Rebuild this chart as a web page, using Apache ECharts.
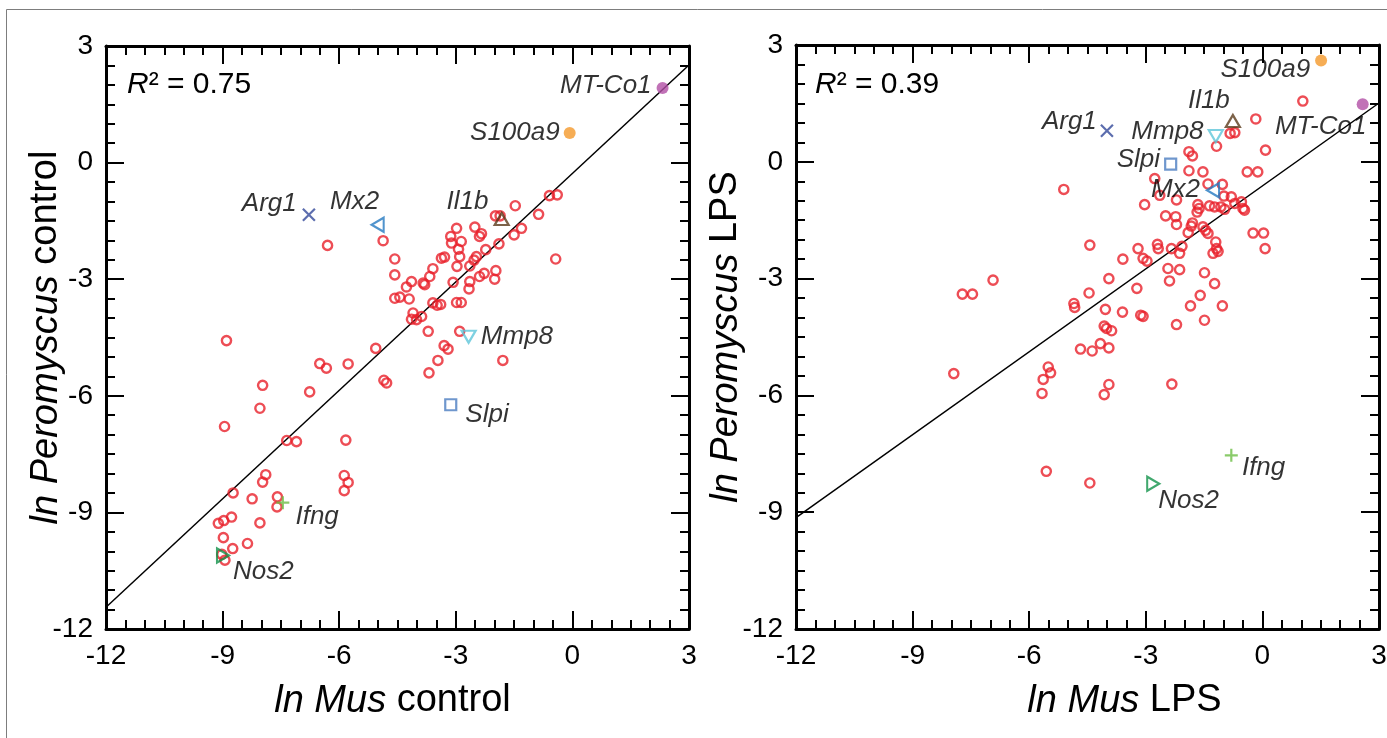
<!DOCTYPE html>
<html>
<head>
<meta charset="utf-8">
<title>Mus vs Peromyscus expression</title>
<script src="https://cdn.jsdelivr.net/npm/echarts/dist/echarts.min.js"></script>
<style>
  html, body { margin: 0; padding: 0; background: #fff; }
  #chart { width: 1387px; height: 738px; }
</style>
</head>
<body>
<div id="chart"></div>
<script>
// ---- data -------------------------------------------------------------
const axisTicks = [-12, -9, -6, -3, 0, 3];

// highlighted genes (same order in every array below)
const genes = ['MT-Co1', 'S100a9', 'Il1b', 'Arg1', 'Mx2', 'Mmp8', 'Slpi', 'Ifng', 'Nos2'];
const controlMus  = [2.32, -0.07, -1.82, -6.78, -5.01, -2.67, -3.13, -7.45, -8.99];
const controlPero = [1.92,  0.76, -1.45, -1.34, -1.60, -4.48, -6.23, -8.75, -10.11];
const lpsMus      = [2.58,  1.51, -0.76, -4.00, -1.27, -1.20, -2.36, -0.80, -2.81];
const lpsPero     = [1.48,  2.60,  1.05,  0.80, -0.73,  0.66, -0.06, -7.54, -8.27];

// remaining genes, control condition
const controlOtherMus = [
  -0.59, -0.39, -1.47, -0.87, -1.98, -1.86, -2.98, -2.51, -2.39, -2.34,
  -3.13, -2.86, -3.11, -2.93, -2.90, -3.29, -3.37, -2.23, -1.89, -1.50,
  -1.31, -0.43, -2.47, -2.53, -2.64, -2.97, -3.59, -3.67, -3.84, -4.14,
  -4.27, -4.57, -4.57, -4.57, -4.44, -4.20, -3.80, -3.07, -2.64, -2.66,
  -2.39, -2.27, -1.97, -2.00, -2.98, -2.86, -3.59, -3.48, -3.39, -4.10,
  -4.14, -4.01, -3.88, -3.71, -2.90, -3.30, -3.20, -3.46, -3.69, -1.79,
  -4.87, -6.30, -5.06, -4.85, -4.78, -8.90, -6.50, -6.33, -5.77, -7.97,
  -6.76, -8.04, -8.95, -7.35, -7.10, -5.83, -7.89, -7.97, -5.87, -5.77,
  -5.87, -8.73, -8.24, -7.59, -7.60, -8.77, -8.97, -9.11, -8.04, -8.98,
  -8.36, -8.74, -8.94, -9.02
];
const controlOtherPero = [
  -0.85, -0.83, -1.11, -1.33, -1.37, -1.37, -1.69, -1.66, -1.90, -1.83,
  -1.90, -2.03, -2.07, -2.23, -2.42, -2.43, -2.46, -2.24, -2.09, -1.86,
  -1.69, -2.48, -2.42, -2.51, -2.66, -2.67, -2.73, -2.93, -3.10, -3.06,
  -3.20, -2.48, -2.89, -3.49, -3.46, -3.51, -3.14, -3.08, -3.06, -3.25,
  -2.93, -2.85, -2.78, -3.00, -3.60, -3.60, -3.61, -3.67, -3.65, -3.87,
  -4.03, -4.04, -3.96, -4.34, -4.34, -4.71, -4.80, -5.09, -5.41, -5.09,
  -2.01, -2.13, -4.78, -5.60, -5.67, -4.58, -5.17, -5.29, -5.18, -5.73,
  -5.90, -6.32, -6.79, -7.15, -7.18, -7.14, -8.03, -8.22, -8.05, -8.23,
  -8.44, -8.50, -8.65, -8.60, -8.86, -9.12, -9.21, -9.28, -9.27, -9.65,
  -9.80, -9.93, -10.23, -10.08
];

// remaining genes, LPS condition
const lpsOtherMus = [
   1.04, -0.17, -0.83, -0.71, -1.18,  0.08, -1.89, -1.80, -5.11, -2.77,
  -1.89, -1.53, -0.39, -0.12, -1.40, -1.03, -2.64, -2.21, -3.03, -1.66,
  -1.63, -1.68, -1.36, -1.07, -0.97, -0.80, -0.99, -0.71, -0.54, -0.50,
  -0.46, -1.23, -2.49, -2.23, -2.21, -1.80, -1.83, -1.91, -1.53, -1.46,
  -1.40, -0.24,  0.03,  0.07, -1.20, -1.18, -1.27, -1.14, -4.44, -3.20,
  -3.07, -2.97, -2.70, -2.68, -2.34, -2.07, -2.13, -3.59, -2.43, -2.13,
  -3.95, -3.23, -4.46, -2.39, -1.49, -1.23, -1.60, -1.85, -1.03, -4.85,
  -4.83, -4.04, -3.60, -3.13, -3.07, -2.21, -1.49, -4.07, -4.01, -3.88,
  -4.68, -4.38, -4.17, -3.95, -3.95, -4.07, -2.33, -4.44, -7.94, -5.51,
  -5.45, -5.64, -5.67, -5.56, -6.93, -7.72, -7.46
];
const lpsOtherPero = [
   1.56,  1.10,  0.73,  0.75,  0.40,  0.30,  0.26,  0.15, -0.71, -0.43,
  -0.23, -0.26, -0.26, -0.26, -0.57, -0.58, -0.86, -0.98, -1.10, -1.10,
  -1.20, -1.29, -1.13, -1.16, -1.22, -0.90, -0.88, -1.07, -1.03, -1.20,
  -1.24, -1.16, -1.39, -1.41, -1.61, -1.57, -1.65, -1.82, -1.67, -1.76,
  -1.84, -1.83, -1.83, -2.23, -2.06, -2.23, -2.35, -2.30, -2.14, -2.23,
  -2.48, -2.55, -2.12, -2.23, -2.23, -2.17, -2.35, -2.50, -2.74, -2.77,
  -3.00, -3.25, -3.37, -3.06, -2.85, -3.13, -3.43, -3.70, -3.70, -3.64,
  -3.74, -3.79, -3.86, -3.94, -3.97, -4.18, -4.07, -4.22, -4.28, -4.34,
  -4.81, -4.86, -4.67, -4.78, -5.72, -5.98, -5.71, -8.25, -5.44, -5.27,
  -5.42, -5.59, -5.95, -7.95, -3.04, -3.40, -3.40
];

// least-squares fits and their R²
const controlFit = { slope: 0.93, intercept: -0.28 };
const lpsFit     = { slope: 0.71, intercept: -0.62 };
const controlR2 = '0.75';
const lpsR2 = '0.39';

// ---- styles -----------------------------------------------------------
const FONT = "'Liberation Sans', Arial, Helvetica, sans-serif";
const RED = '#e8202a';
const TITLE_SIZE = 38;

const markerStyles = {
  'MT-Co1': { symbol: 'circle', size: 12, fill: '#b24fa5' },
  'S100a9': { symbol: 'circle', size: 12, fill: '#f4982a' },
  'Il1b':   { symbol: 'triangle', size: [14, 12], stroke: '#5b3b1c', rotate: 0 },
  'Arg1':   { symbol: 'path://M0,0L10,10M10,0L0,10', size: 12, stroke: '#33489a' },
  'Mx2':    { symbol: 'triangle', size: [14, 12], stroke: '#2479c1', rotate: 90 },
  'Mmp8':   { symbol: 'triangle', size: [14, 12], stroke: '#5ec5da', rotate: 180 },
  'Slpi':   { symbol: 'rect', size: 11, stroke: '#4b7dc1' },
  'Ifng':   { symbol: 'path://M5,0L5,10M0,5L10,5', size: 13, stroke: '#6dbe45' },
  'Nos2':   { symbol: 'triangle', size: [14, 12], stroke: '#12924a', rotate: -90 }
};

const controlLabels = {
  'MT-Co1': { position: 'left',  distance: 5, offset: [0, -2] },
  'S100a9': { position: 'left',  distance: 4, offset: [0, 0] },
  'Il1b':   { position: 'left',  distance: 5, offset: [0, -17] },
  'Arg1':   { position: 'left',  distance: 5, offset: [0, -11] },
  'Mx2':    { position: 'top',   distance: 2, offset: [-23, 0] },
  'Mmp8':   { position: 'right', distance: 4, offset: [0, 0] },
  'Slpi':   { position: 'right', distance: 8, offset: [0, 10] },
  'Ifng':   { position: 'right', distance: 5, offset: [0, 14] },
  'Nos2':   { position: 'right', distance: 3, offset: [0, 16] }
};
const lpsLabels = {
  'MT-Co1': { position: 'bottom', distance: 4, offset: [-42, 0] },
  'S100a9': { position: 'left',   distance: 5, offset: [0, 9] },
  'Il1b':   { position: 'top',    distance: 0, offset: [-24, 0] },
  'Arg1':   { position: 'left',   distance: 3, offset: [0, -9] },
  'Mmp8':   { position: 'left',   distance: 4, offset: [0, -4] },
  'Slpi':   { position: 'left',   distance: 4, offset: [0, -4] },
  'Mx2':    { position: 'left',   distance: 6, offset: [0, 0] },
  'Ifng':   { position: 'right',  distance: 3, offset: [0, 12] },
  'Nos2':   { position: 'right',  distance: 4, offset: [-6, 17] }
};

// ---- builders ---------------------------------------------------------
const tickLine = { color: '#000', width: 2 };

function valueAxis(gridIndex, position, withLabels, name, nameGap, namePadding) {
  return {
    type: 'value', gridIndex, position,
    min: axisTicks[0], max: axisTicks[axisTicks.length - 1],
    interval: axisTicks[1] - axisTicks[0],
    axisLine: { show: true, onZero: false, lineStyle: { color: '#000', width: 3 } },
    axisTick: { show: true, inside: true, length: 18, lineStyle: tickLine },
    minorTick: { show: true, splitNumber: 6, length: 9, lineStyle: tickLine },
    splitLine: { show: false },
    minorSplitLine: { show: false },
    axisLabel: {
      show: withLabels, margin: 13, fontSize: 28, color: '#000', fontFamily: FONT,
      hideOverlap: false, showMinLabel: true, showMaxLabel: true
    },
    name: withLabels ? name : '',
    nameLocation: 'middle',
    nameGap: nameGap || 0,
    nameMoveOverlap: false,
    nameTextStyle: {
      fontSize: TITLE_SIZE, color: '#000', fontFamily: FONT, padding: namePadding || 0,
      rich: { it: { fontStyle: 'italic', fontSize: TITLE_SIZE, color: '#000', fontFamily: FONT } }
    },
    silent: true
  };
}

function pairs(xs, ys) {
  return xs.map((x, i) => [x, ys[i]]);
}

function fitLine(fit) {
  const x0 = axisTicks[0], x1 = axisTicks[axisTicks.length - 1];
  return [[x0, fit.slope * x0 + fit.intercept], [x1, fit.slope * x1 + fit.intercept]];
}

function panelSeries(axisIndex, otherX, otherY, geneX, geneY, fit, labels) {
  const out = [];
  out.push({
    type: 'line', xAxisIndex: axisIndex, yAxisIndex: axisIndex,
    data: fitLine(fit), symbol: 'none', silent: true, z: 1,
    lineStyle: { color: '#000', width: 1.5 }
  });
  out.push({
    type: 'scatter', xAxisIndex: axisIndex, yAxisIndex: axisIndex,
    data: pairs(otherX, otherY), symbol: 'circle', symbolSize: 9.2, silent: true, z: 2,
    itemStyle: { color: 'rgba(0,0,0,0)', borderColor: RED, borderWidth: 2.4 }
  });
  genes.forEach((g, i) => {
    const m = markerStyles[g];
    const lab = labels[g];
    out.push({
      type: 'scatter', name: g, xAxisIndex: axisIndex, yAxisIndex: axisIndex,
      data: [[geneX[i], geneY[i]]],
      symbol: m.symbol, symbolSize: m.size, symbolRotate: m.rotate || 0,
      silent: true, z: 3,
      itemStyle: m.fill
        ? { color: m.fill, borderWidth: 0 }
        : { color: 'rgba(0,0,0,0)', borderColor: m.stroke, borderWidth: 2.2 },
      label: {
        show: true, formatter: g, position: lab.position, distance: lab.distance,
        offset: lab.offset, fontSize: 26, fontStyle: 'italic', color: '#000', fontFamily: FONT
      }
    });
  });
  return out;
}

function r2Text(left, value) {
  return {
    type: 'text', left, top: 70, silent: true,
    style: {
      text: '{r|R}² = ' + value,
      font: '30px ' + FONT, fill: '#000',
      rich: { r: { fontStyle: 'italic', fontSize: 30, fontFamily: FONT, fill: '#000' } }
    }
  };
}

// ---- chart ------------------------------------------------------------
const chart = echarts.init(document.getElementById('chart'), null, { renderer: 'canvas' });

chart.setOption({
  animation: false,
  backgroundColor: '#fff',
  grid: [
    { left: 106, top: 46, width: 583, height: 583, containLabel: false, outerBoundsMode: 'none' },
    { left: 796, top: 45, width: 583, height: 584, containLabel: false, outerBoundsMode: 'none' }
  ],
  xAxis: [
    valueAxis(0, 'bottom', true, '{it|ln Mus} control', 53, [0, 10, 0, 0]),
    valueAxis(0, 'top', false),
    valueAxis(1, 'bottom', true, '{it|ln Mus} LPS', 53, [0, 0, 0, 74]),
    valueAxis(1, 'top', false)
  ],
  yAxis: [
    valueAxis(0, 'left', true, '{it|ln Peromyscus} control', 41, [0, 0, 0, 0]),
    valueAxis(0, 'right', false),
    valueAxis(1, 'left', true, '{it|ln Peromyscus} LPS', 51, [0, 0, 0, 0]),
    valueAxis(1, 'right', false)
  ],
  graphic: [
    {
      type: 'rect', silent: true, z: -1,
      shape: { x: 6.5, y: 9.5, width: 1400, height: 760 },
      style: { fill: 'none', stroke: '#7d7d7d', lineWidth: 1 }
    },
    r2Text(127, controlR2),
    r2Text(815, lpsR2)
  ],
  series: [
    ...panelSeries(0, controlOtherMus, controlOtherPero, controlMus, controlPero, controlFit, controlLabels),
    ...panelSeries(2, lpsOtherMus, lpsOtherPero, lpsMus, lpsPero, lpsFit, lpsLabels)
  ]
});
</script>
</body>
</html>
